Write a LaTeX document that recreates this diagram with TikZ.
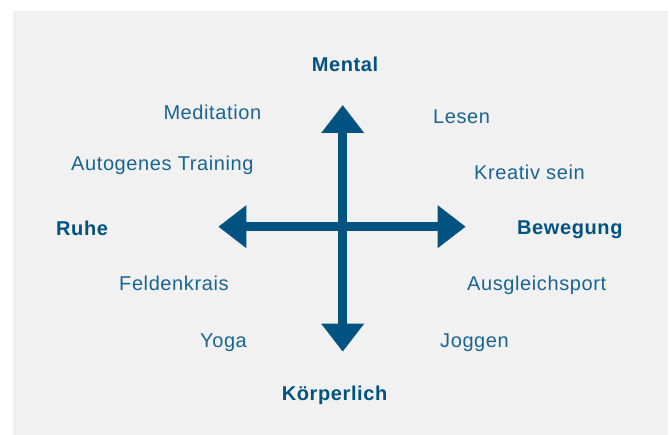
\documentclass[tikz,border=0pt]{standalone}
\usepackage{fontspec}
\usetikzlibrary{arrows.meta}
\newfontfamily\labelfont[LetterSpace=3]{Liberation Sans}
\definecolor{axisblue}{RGB}{0,82,128}
\definecolor{itemblue}{RGB}{26,100,145}
\definecolor{panelgrey}{RGB}{241,241,241}
\begin{document}
\begin{tikzpicture}[x=1pt,y=-1pt,
  item/.style={inner sep=0pt,anchor=base west,text=itemblue,
    font=\labelfont\fontsize{20}{24}\selectfont},
  pole/.style={item,text=axisblue,font=\labelfont\bfseries\fontsize{20}{24}\selectfont},
  axis/.style={draw=axisblue,line width=9pt,
    {Triangle[length=28pt,width=41pt]}-{Triangle[length=28pt,width=41pt]}}]
\useasboundingbox (0,0) rectangle (670,435);
\fill[panelgrey] (13,11) rectangle (668,435);

% axes
\coordinate (top) at (342.7,105);
\coordinate (bottom) at (342.7,351.7);
\coordinate (left) at (218.3,226.7);
\coordinate (right) at (465.7,226.7);
\draw[axis] (top) -- (bottom);
\draw[axis] (left) -- (right);

% poles
\node[pole] (mental) at (311.7,71.5) {Mental};
\node[pole] (koerper) at (281.7,400.5) {Körperlich};
\node[pole] (ruhe) at (56,235.5) {Ruhe};
\node[pole] (bewegung) at (517,235) {Bewegung};

% activities
\node[item] (meditation) at (163.3,119.5) {Meditation};
\node[item] (autogen) at (71,170.5) {Autogenes Training};
\node[item] (lesen) at (433,123.5) {Lesen};
\node[item] (kreativ) at (474,179.5) {Kreativ sein};
\node[item] (feldenkrais) at (119,290.5) {Feldenkrais};
\node[item] (ausgleich) at (467,290.5) {Ausgleichsport};
\node[item] (yoga) at (200,347.5) {Yoga};
\node[item] (joggen) at (440,347.5) {Joggen};
\end{tikzpicture}
\end{document}
